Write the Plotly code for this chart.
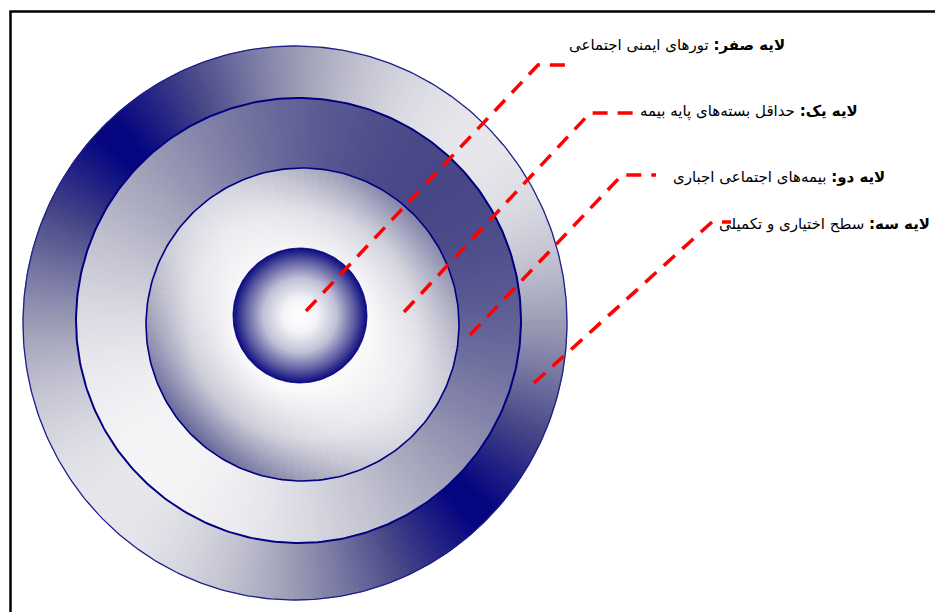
import numpy as np
import plotly.graph_objects as go

# ---------------- data (diagram content) ----------------
layer_titles = ["لایه صفر:", "لایه یک:", "لایه دو:", "لایه سه:"]
layer_texts = [
    "تورهای ایمنی اجتماعی",
    "حداقل بسته‌های پایه بیمه",
    "بیمه‌های اجتماعی اجباری",
    "سطح اختیاری و تکمیلی",
]

# ---------------- layout constants (pixel space) ----------------
W, H = 943, 612
OFF = 8  # page body margin
NAVY = "#000080"
RED = "#ff0000"
FONT = "DejaVu Sans"

outer = dict(cx=295, cy=323, rx=272, ry=277)
ring2 = dict(cx=298.5, cy=320.5, rx=222.5, ry=222.5)
ring3 = dict(cx=302.5, cy=324.5, rx=156.5, ry=156.5)
core = dict(cx=300, cy=315.5, rx=67, ry=67.5)

# leader line anchor points: start, elbow, end
leaders = [
    [(306, 311), (538, 65), (570, 65)],
    [(404, 312), (590, 113), (634, 113)],
    [(470, 335), (622, 175), (656, 175)],
    [(534, 383), (712, 222), (731, 222)],
]
label_pos = [(787, 45), (860, 111), (887, 177), (932, 224)]

# shade ramp: level -> navy..light gray
LV = [0, 72, 128, 160, 220, 246, 255]
BC = [128, 136, 168, 184, 228, 248, 255]


def shade(level):
    r = float(np.interp(level, LV, LV))
    b = float(np.interp(level, LV, BC))
    return f"rgb({r:.0f},{r:.0f},{b:.0f})"


def ell_pts(c, a0, a1, n):
    a = np.radians(np.linspace(a0, a1, n))
    return c["cx"] + c["rx"] * np.cos(a), c["cy"] - c["ry"] * np.sin(a)


def wedge_path(c, a0, a1):
    xs, ys = ell_pts(c, a0, a1, 3)
    pts = [(c["cx"], c["cy"])] + list(zip(xs, ys))
    return "M " + " L ".join(f"{x:.2f},{y:.2f}" for x, y in pts) + " Z"


def outer_level(t):
    return max(6.0, 230 * abs(np.sin(np.radians(t - 135))) ** 1.15)


def ring2_level(t):
    return 72 + 173 * (1 - np.cos(np.radians(t - 45))) / 2


def ring3_edge(t):
    return 165 + 50 * np.cos(np.radians(2 * (t - 135))) - 15 * np.cos(np.radians(t - 225))


shapes = []
STEP = 1
for c, fn in [(outer, outer_level), (ring2, ring2_level)]:
    for t in np.arange(0, 360, STEP):
        col = shade(fn(t + STEP / 2))
        shapes.append(dict(type="path", xref="x", yref="y", layer="below",
                           path=wedge_path(c, t - 0.25, t + STEP + 0.25),
                           fillcolor=col, line=dict(color=col, width=0.6)))

# frame (page border)
shapes.append(dict(type="rect", xref="x", yref="y", x0=10.5, y0=11.5, x1=W + 40, y1=H + 40,
                   line=dict(color="black", width=2.5), layer="above"))

fig = go.Figure()

# ring 3 disk: wedges, each with its own radial gradient (square bbox kept via tiny corner specks)
cx, cy, R = ring3["cx"], ring3["cy"], ring3["rx"]
eps = 0.01
corner_x = [None, cx - R, cx - R + eps, cx - R, None, cx + R, cx + R - eps, cx + R]
corner_y = [None, cy - R, cy - R, cy - R + eps, None, cy + R, cy + R, cy + R - eps]
WSTEP = 3
for t in np.arange(0, 360, WSTEP):
    ex, ey = ell_pts(ring3, t - 0.35, t + WSTEP + 0.35, 5)
    px = [cx] + list(ex) + corner_x
    py = [cy] + list(ey) + corner_y
    e = ring3_edge(t + WSTEP / 2)
    stops = [[0, "#ffffff"], [0.42, shade(250)], [0.72, shade(246 - (246 - e) * 0.3)], [1, shade(e)]]
    fig.add_trace(go.Scatter(x=px, y=py, mode="none", fill="toself",
                             fillgradient=dict(type="radial", colorscale=stops),
                             hoverinfo="skip", showlegend=False))

# ring 3 outline
xs, ys = ell_pts(ring3, 0, 360, 241)
fig.add_trace(go.Scatter(x=xs, y=ys, mode="lines", line=dict(color=NAVY, width=1.6),
                         hoverinfo="skip", showlegend=False))

# core disk
xs, ys = ell_pts(core, 0, 360, 181)
fig.add_trace(go.Scatter(x=xs, y=ys, mode="lines", fill="toself",
                         fillgradient=dict(type="radial", colorscale=[
                             [0, "#ffffff"], [0.25, "#f4f4f8"], [0.55, "#c0c0d6"], [0.82, "#5a5aa0"], [1, "#0a0a80"]]),
                         line=dict(color=NAVY, width=0.8), hoverinfo="skip", showlegend=False))

# outlines of the outer rings
for c, col, w in [(outer, "#20208a", 1.3), (ring2, NAVY, 2)]:
    xs, ys = ell_pts(c, 0, 360, 361)
    fig.add_trace(go.Scatter(x=xs, y=ys, mode="lines", line=dict(color=col, width=w),
                             hoverinfo="skip", showlegend=False))

# leader lines
for pts in leaders:
    fig.add_trace(go.Scatter(x=[p[0] for p in pts], y=[p[1] for p in pts], mode="lines",
                             line=dict(color=RED, width=3.5, dash="15px,10px"),
                             hoverinfo="skip", showlegend=False))

annotations = []
for (x, y), t, s in zip(label_pos, layer_titles, layer_texts):
    annotations.append(dict(x=x, y=y, xref="x", yref="y", xanchor="right", yanchor="middle",
                            text=f"<b>{t}</b> {s}", showarrow=False,
                            font=dict(family=FONT, size=15, color="black")))

fig.update_layout(
    width=W, height=H, margin=dict(l=0, r=0, t=0, b=0),
    paper_bgcolor="white", plot_bgcolor="white",
    xaxis=dict(range=[OFF, W + OFF], visible=False, fixedrange=True),
    yaxis=dict(range=[H + OFF, OFF], visible=False, fixedrange=True),
    shapes=shapes, annotations=annotations, showlegend=False,
)

fig.write_html("out.html")
